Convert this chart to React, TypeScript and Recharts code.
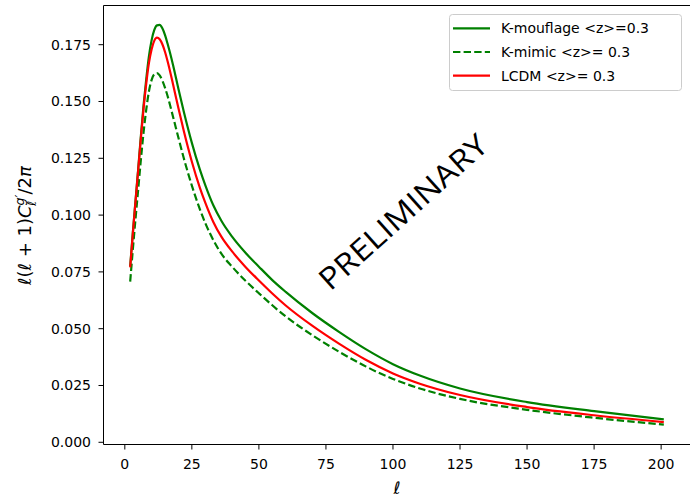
import { Line, LineChart, ReferenceLine, XAxis, YAxis } from "recharts";

// multipole values shared by all three curves
const ELL = [
  2, 3, 4, 5, 6, 7, 8, 9, 10, 11, 12, 13, 14, 15, 16, 18, 20, 22, 25, 28, 30, 33, 36, 40, 45, 50, 55, 60, 70,
  80, 90, 100, 110, 125, 150, 175, 201,
];

const K_MOUFLAGE = [
  0.0775, 0.0925, 0.1065, 0.1205, 0.135, 0.1485, 0.16, 0.17, 0.177, 0.1815, 0.1835, 0.1837, 0.1822, 0.1792,
  0.1752, 0.166, 0.1555, 0.1455, 0.1318, 0.12, 0.1132, 0.1043, 0.0975, 0.0905, 0.0834, 0.0773, 0.0714, 0.0662,
  0.0568, 0.0485, 0.0409, 0.0344, 0.0294, 0.0237, 0.0177, 0.0137, 0.0101,
];

const K_MIMIC = [
  0.0707, 0.085, 0.0985, 0.1115, 0.1245, 0.1365, 0.1465, 0.1545, 0.1595, 0.162, 0.1625, 0.1615, 0.1592, 0.156,
  0.1522, 0.1432, 0.134, 0.125, 0.113, 0.1025, 0.0965, 0.089, 0.083, 0.0773, 0.0711, 0.0656, 0.0603, 0.0554,
  0.0471, 0.0398, 0.0333, 0.0279, 0.0237, 0.0191, 0.0143, 0.0108, 0.0078,
];

const LCDM = [
  0.077, 0.092, 0.106, 0.12, 0.134, 0.147, 0.158, 0.167, 0.173, 0.1768, 0.1781, 0.1774, 0.1752, 0.1718,
  0.1675, 0.1575, 0.147, 0.137, 0.1235, 0.112, 0.1055, 0.097, 0.0905, 0.084, 0.0772, 0.0712, 0.0655, 0.0602,
  0.0512, 0.0433, 0.0362, 0.0303, 0.0258, 0.0208, 0.0155, 0.0119, 0.0089,
];

const X_TICKS = [0, 25, 50, 75, 100, 125, 150, 175, 200];
const Y_TICKS = [0, 0.025, 0.05, 0.075, 0.1, 0.125, 0.15, 0.175];

const X_MIN = -7.95;
const X_MAX = 210.95;
const Y_MIN = -0.00097;
const Y_MAX = 0.19225;

const LEGEND = [
  { label: "K-mouflage <z>=0.3", color: "#008000", dash: undefined },
  { label: "K-mimic <z>= 0.3", color: "#008000", dash: "7.4 3.2" },
  { label: "LCDM <z>= 0.3", color: "#ff0000", dash: undefined },
];

const FONT = "'DejaVu Sans', sans-serif";

const rows = ELL.map((ell, i) => ({
  ell,
  kmouflage: K_MOUFLAGE[i],
  kmimic: K_MIMIC[i],
  lcdm: LCDM[i],
}));

const tickStyle = { fill: "#000", fontSize: 14, fontFamily: FONT };

export default function App() {
  return (
    <div
      style={{
        position: "absolute",
        left: 0,
        top: 0,
        width: 690,
        height: 498,
        overflow: "hidden",
        background: "#fff",
      }}
    >
      <LineChart width={700} height={498} data={rows} margin={{ top: 5.5, right: 9.5, bottom: 0, left: 0 }}>
        <XAxis
          dataKey="ell"
          type="number"
          domain={[X_MIN, X_MAX]}
          ticks={X_TICKS}
          allowDataOverflow
          height={53.5}
          tick={tickStyle}
          tickSize={5}
          tickMargin={10}
          stroke="#000"
          tickLine={{ stroke: "#000" }}
          axisLine={{ stroke: "#000" }}
        />
        <YAxis
          type="number"
          domain={[Y_MIN, Y_MAX]}
          ticks={Y_TICKS}
          allowDataOverflow
          width={103.5}
          tick={tickStyle}
          tickSize={5}
          tickMargin={7.5}
          tickFormatter={(v: number) => v.toFixed(3)}
          stroke="#000"
          tickLine={{ stroke: "#000" }}
          axisLine={{ stroke: "#000" }}
        />
        <ReferenceLine y={Y_MAX} stroke="#000" strokeWidth={1} />
        <ReferenceLine x={X_MAX} stroke="#000" strokeWidth={1} />
        <Line
          dataKey="kmouflage"
          type="monotone"
          stroke="#008000"
          strokeWidth={2.2}
          dot={false}
          isAnimationActive={false}
        />
        <Line
          dataKey="kmimic"
          type="monotone"
          stroke="#008000"
          strokeWidth={2.2}
          strokeDasharray="7.4 3.2"
          dot={false}
          isAnimationActive={false}
        />
        <Line dataKey="lcdm" type="monotone" stroke="#ff0000" strokeWidth={2.2} dot={false} isAnimationActive={false} />
      </LineChart>

      <svg width={690} height={498} style={{ position: "absolute", left: 0, top: 0, pointerEvents: "none" }}>
        {/* y label, mathtext style */}
        <text transform="translate(31,225.5) rotate(-90)" textAnchor="middle" fontFamily={FONT} fontSize={18} fill="#000">
          <tspan fontStyle="italic">ℓ</tspan>
          <tspan>(</tspan>
          <tspan fontStyle="italic">ℓ</tspan>
          <tspan> + 1)</tspan>
          <tspan fontStyle="italic">C</tspan>
          <tspan fontStyle="italic" fontSize={12.5} dy={-7}>
            g′
          </tspan>
          <tspan fontStyle="italic" fontSize={12.5} dx={-11} dy={12}>
            ℓ
          </tspan>
          <tspan dx={6} dy={-5}>
            /2
          </tspan>
          <tspan fontStyle="italic">π</tspan>
        </text>

        <text x={397} y={494} textAnchor="middle" fontFamily={FONT} fontStyle="italic" fontSize={17} fill="#000">
          ℓ
        </text>

        <text
          transform="translate(410.2,219.9) rotate(-42)"
          textAnchor="middle"
          fontFamily="'Open Sans', sans-serif"
          fontSize={30}
          textLength={215}
          lengthAdjust="spacingAndGlyphs"
          fill="#000"
        >
          PRELIMINARY
        </text>

        <rect x={449.5} y={14.5} width={232} height={76} rx={3} fill="#fff" stroke="#cccccc" strokeWidth={1} />
        {LEGEND.map((item, i) => {
          const y = 28.3 + i * 23.7;
          return (
            <g key={item.label}>
              <line x1={453} x2={490} y1={y} y2={y} stroke={item.color} strokeWidth={2.2} strokeDasharray={item.dash} />
              <text x={501} y={y + 5} fontFamily={FONT} fontSize={14} fill="#000">
                {item.label}
              </text>
            </g>
          );
        })}
      </svg>
    </div>
  );
}
